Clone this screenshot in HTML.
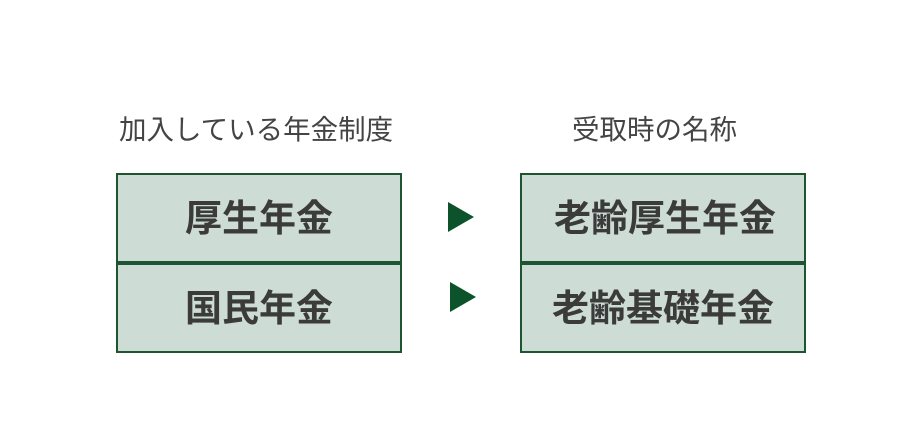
<!DOCTYPE html>
<html><head><meta charset="utf-8"><style>
body{margin:0;width:910px;height:433px;background:#fff;position:relative;overflow:hidden;font-family:"Liberation Sans","Noto Sans CJK JP",sans-serif;}
.h{position:absolute;top:112px;font-size:27.5px;color:#444;white-space:nowrap;line-height:36px;}
.b{position:absolute;box-sizing:border-box;width:286px;height:90px;background:#cddcd5;border:2px solid #1e5530;display:flex;align-items:center;justify-content:center;font-size:37px;font-weight:bold;color:#3b3b3b;padding-bottom:6px;}
.t{position:absolute;width:0;height:0;border-top:15px solid transparent;border-bottom:15px solid transparent;border-left:26px solid #0c532b;}
</style></head><body>
<div class="h" style="left:119px">加入している年金制度</div>
<div class="h" style="left:572px">受取時の名称</div>
<div class="b" style="left:116px;top:173px">厚生年金</div>
<div class="b" style="left:116px;top:263px">国民年金</div>
<div class="b" style="left:520px;top:173px;padding-left:4px">老齢厚生年金</div>
<div class="b" style="left:520px;top:263px">老齢基礎年金</div>
<div class="t" style="left:448px;top:202px"></div>
<div class="t" style="left:450px;top:282px"></div>
</body></html>
